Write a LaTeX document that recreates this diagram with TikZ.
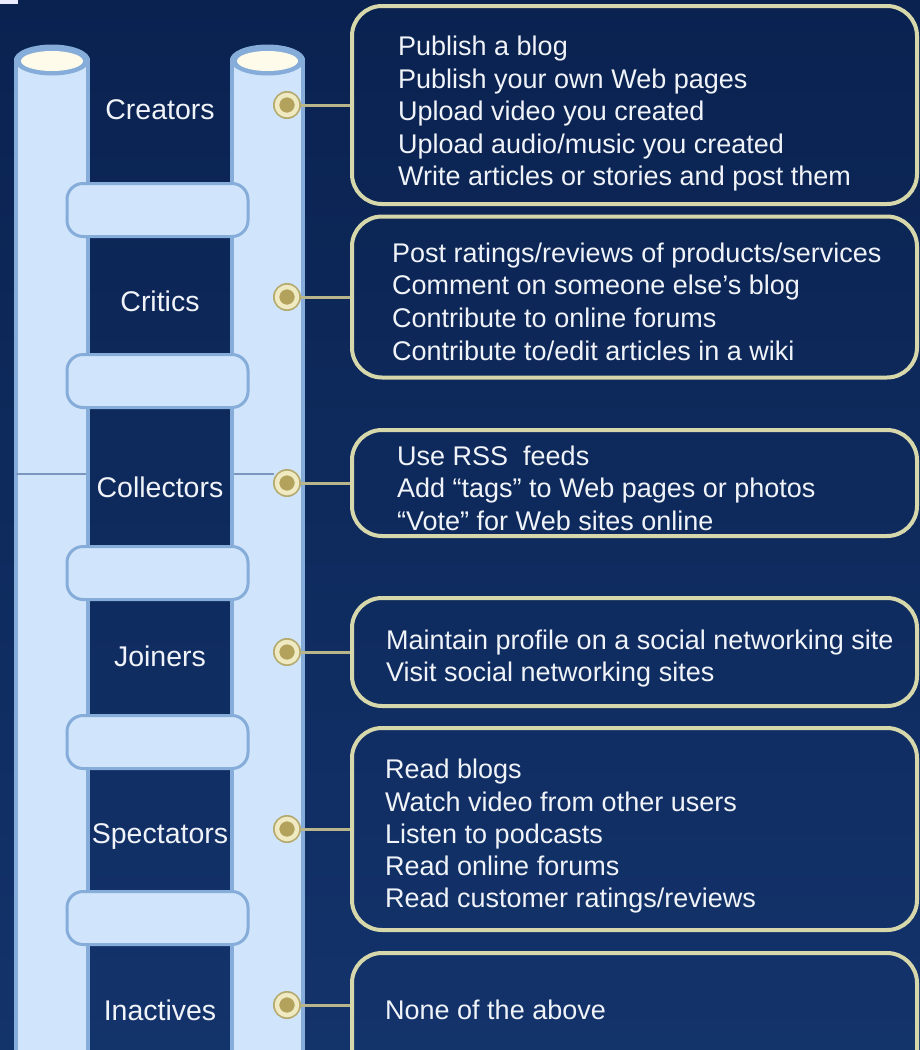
\documentclass[tikz,border=0pt]{standalone}
\usepackage{fontspec}
\setmainfont{Liberation Sans}
\definecolor{bgtop}{HTML}{0A2250}
\definecolor{bgbot}{HTML}{13336B}
\definecolor{pfill}{HTML}{D0E5FB}
\definecolor{pedge}{HTML}{86ACD9}
\definecolor{capin}{HTML}{FFFBEA}
\definecolor{boxedge}{HTML}{D6D8AC}
\definecolor{dotin}{HTML}{B3A25C}
\definecolor{dotring}{HTML}{F0EAC2}
\definecolor{dotouter}{HTML}{B4AA6E}
\definecolor{conncol}{HTML}{B9B58A}
\definecolor{txt}{HTML}{F0F3F8}
\definecolor{faint}{HTML}{7B97BF}
\begin{document}
\begin{tikzpicture}[x=1pt,y=-1pt,
  pillar/.style={fill=pfill,draw=pedge,line width=4pt},
  rung/.style={fill=pfill,draw=pedge,line width=3pt,rounded corners=16pt},
  lab/.style={text=txt,font=\fontsize{28.5}{32}\selectfont,anchor=base,inner sep=0pt},
  bt/.style={text=txt,font=\fontsize{27}{32}\selectfont,anchor=base west,inner sep=0pt},
  infobox/.style={draw=boxedge,line width=4pt,rounded corners=30pt,minimum width=565pt,inner sep=0pt},
  dotnode/.style={circle,fill=dotin,draw=dotring,line width=4.5pt,minimum size=20pt,inner sep=0pt,outer sep=0pt},
  conn/.style={draw=conncol,line width=3pt}]
\useasboundingbox (0,0) rectangle (920,1050);
\clip (0,0) rectangle (920,1050);
\shade[top color=bgtop,bottom color=bgbot] (0,0) rectangle (920,1050);
\fill[white!92!blue] (0,0) rectangle (18,4);

% pillars
\path[pillar] (16,60) rectangle (88,1075);
\path[pillar] (232,60) rectangle (303,1075);
\fill[pedge] (52,60) ellipse [x radius=38, y radius=15.5];
\fill[capin] (52,61) ellipse [x radius=31, y radius=10];
\fill[pedge] (267.5,60) ellipse [x radius=37.5, y radius=15.5];
\fill[capin] (267.5,61) ellipse [x radius=30.5, y radius=10];

% faint line
\draw[faint,line width=1.2pt] (16,474) -- (86,474);
\draw[faint,line width=1.2pt] (234,474) -- (274,474);

% rungs
\foreach \y in {210,381,573,742,918}
  \path[rung] (67,\y-26.5) rectangle (248,\y+26.5);

% labels
\node[lab] (lab1) at (160,119.5) {Creators};
\node[lab] (lab2) at (160,311.5) {Critics};
\node[lab] (lab3) at (160,497.5) {Collectors};
\node[lab] (lab4) at (160,666.5) {Joiners};
\node[lab] (lab5) at (160,843.5) {Spectators};
\node[lab] (lab6) at (160,1020) {Inactives};

% boxes
\node[infobox,minimum height=198pt] (B1) at (634.5,105) {};
\node[infobox,minimum height=161pt] (B2) at (634.5,297) {};
\node[infobox,minimum height=106pt] (B3) at (634.5,483) {};
\node[infobox,minimum height=108pt] (B4) at (634.5,652) {};
\node[infobox,minimum height=202pt] (B5) at (634.5,829) {};
\node[infobox,minimum height=137pt] (B6) at (634.5,1021.5) {};

% dot outlines
\foreach \y in {105,297,483,652,829,1005}
  \fill[dotouter] (287,\y) circle (14);

% dots
\node[dotnode] (d1) at (287,105) {};
\node[dotnode] (d2) at (287,297) {};
\node[dotnode] (d3) at (287,483) {};
\node[dotnode] (d4) at (287,652) {};
\node[dotnode] (d5) at (287,829) {};
\node[dotnode] (d6) at (287,1005) {};

\draw[conn] ([xshift=4pt]d1.east) -- (d1 -| B1.west);
\draw[conn] ([xshift=4pt]d2.east) -- (d2 -| B2.west);
\draw[conn] ([xshift=4pt]d3.east) -- (d3 -| B3.west);
\draw[conn] ([xshift=4pt]d4.east) -- (d4 -| B4.west);
\draw[conn] ([xshift=4pt]d5.east) -- (d5 -| B5.west);
\draw[conn] ([xshift=4pt]d6.east) -- (d6 -| B6.west);

% box texts
\node[bt] (t11) at (398,55.7) {Publish a blog};
\node[bt] (t12) at (398,88.2) {Publish your own Web pages};
\node[bt] (t13) at (398,120.7) {Upload video you created};
\node[bt] (t14) at (398,153.2) {Upload audio/music you created};
\node[bt] (t15) at (398,185.7) {Write articles or stories and post them};

\node[bt] (t21) at (392,262) {Post ratings/reviews of products/services};
\node[bt] (t22) at (392,294.7) {Comment on someone else’s blog};
\node[bt] (t23) at (392,327.4) {Contribute to online forums};
\node[bt] (t24) at (392,360) {Contribute to/edit articles in a wiki};

\node[bt] (t31) at (397,465) {Use RSS\ \ feeds};
\node[bt] (t32) at (397,497.5) {Add “tags” to Web pages or photos};
\node[bt] (t33) at (397,530) {“Vote” for Web sites online};

\node[bt] (t41) at (386,649.5) {Maintain profile on a social networking site};
\node[bt] (t42) at (386,681.8) {Visit social networking sites};

\node[bt] (t51) at (385,778.7) {Read blogs};
\node[bt] (t52) at (385,811) {Watch video from other users};
\node[bt] (t53) at (385,843.2) {Listen to podcasts};
\node[bt] (t54) at (385,875.5) {Read online forums};
\node[bt] (t55) at (385,907.7) {Read customer ratings/reviews};

\node[bt] (t61) at (385,1019.7) {None of the above};
\end{tikzpicture}
\end{document}
